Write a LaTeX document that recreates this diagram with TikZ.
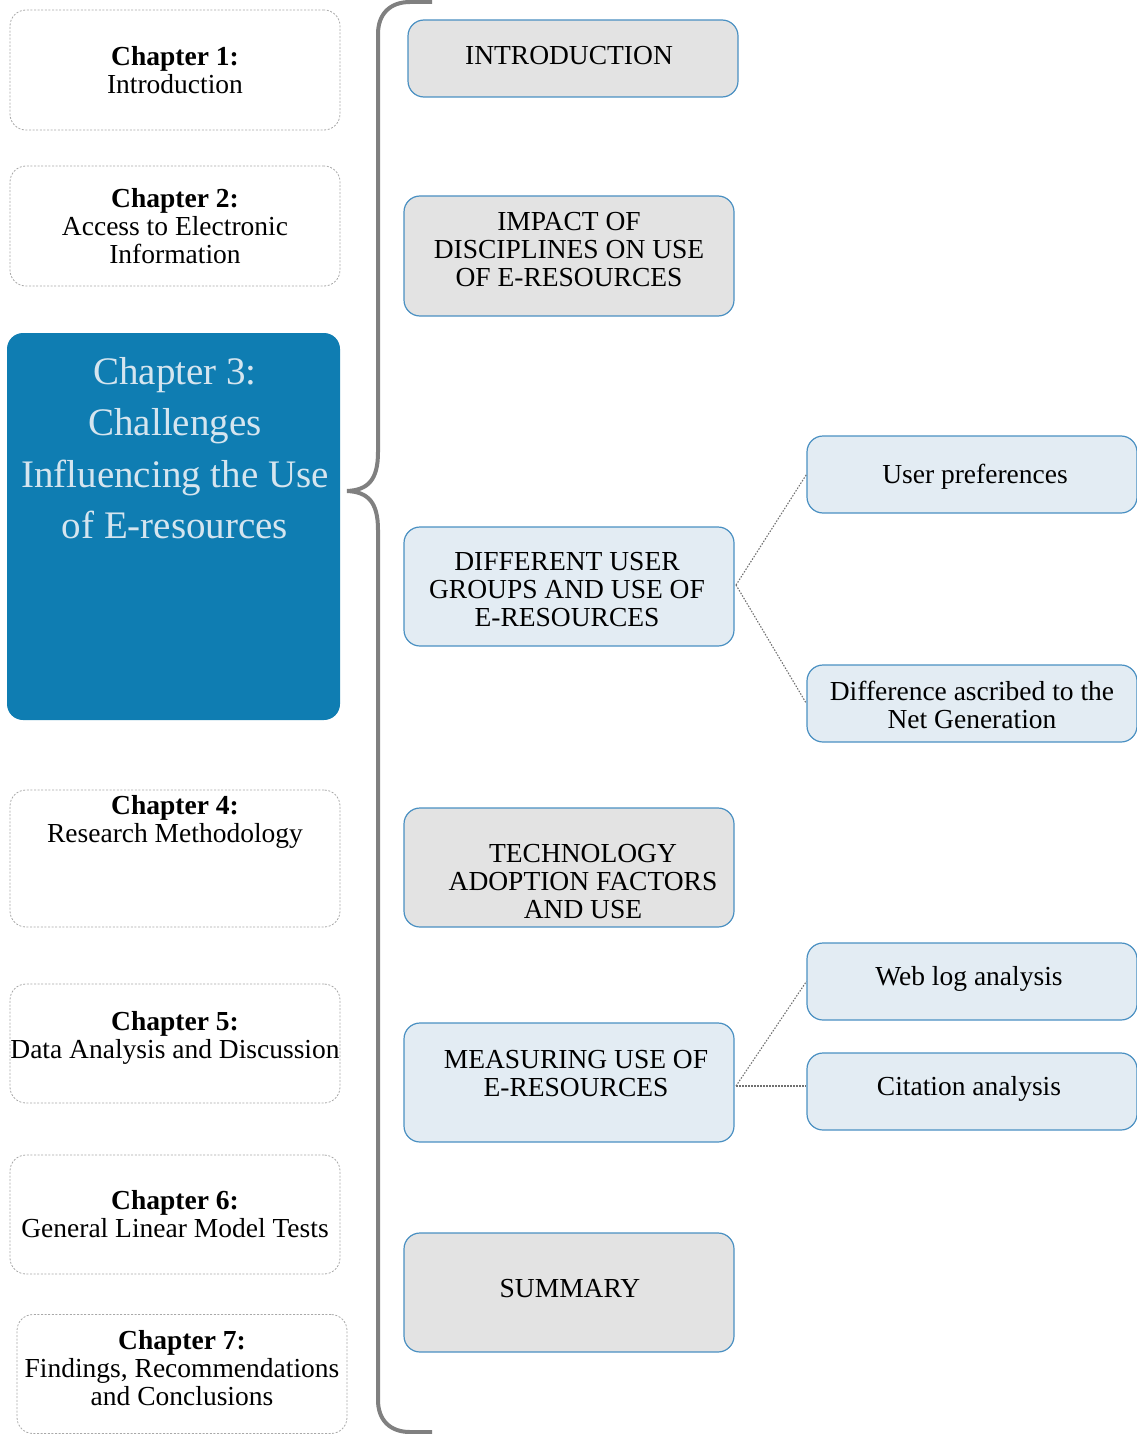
\documentclass[tikz,border=0pt]{standalone}
\usepackage{fontspec}
\setmainfont{Liberation Serif}
\definecolor{chblue}{HTML}{0F7DB2}
\definecolor{chtext}{HTML}{D5E5EF}
\definecolor{bord}{HTML}{4A90C2}
\definecolor{grayfill}{HTML}{E3E3E3}
\definecolor{bluefill}{HTML}{E3ECF3}
\definecolor{dashgray}{HTML}{A8A8A8}
\definecolor{bracegray}{HTML}{808080}
\definecolor{conngray}{HTML}{707070}
\begin{document}
\begin{tikzpicture}[x=1pt,y=-1pt,
  txt/.style={font=\fontsize{27.5}{28}\selectfont, align=center, inner sep=0pt},
  chap/.style={txt, draw=dashgray, dash pattern=on 2pt off 1.6pt, line width=0.8pt,
    rounded corners=16pt, minimum width=330pt, minimum height=120pt},
  midbox/.style={txt, draw=bord, line width=1.2pt, rounded corners=16pt,
    minimum width=330pt, minimum height=120pt},
  graybox/.style={midbox, fill=grayfill},
  bluebox/.style={midbox, fill=bluefill},
  sidebox/.style={bluebox, minimum height=77pt},
  conn/.style={draw=conngray, dash pattern=on 1.5pt off 1.5pt, line width=1.1pt},
  bracepath/.style={draw=bracegray, line width=4pt}
]
\useasboundingbox (0,0) rectangle (1137,1434);

% left column
\node[chap] (c1) at (175,70) {\textbf{Chapter 1:}\\Introduction};
\node[chap] (c2) at (175,226) {\textbf{Chapter 2:}\\Access to Electronic\\Information};
\node[fill=chblue, rounded corners=16pt, minimum width=333pt, minimum height=387pt, inner sep=0pt] (c3) at (173.5,526.5) {};
\node[txt, text=chtext, font=\fontsize{39}{51.5}\selectfont] (c3t) at (175,448) {Chapter 3:\\Challenges\\Influencing the Use\\of E-resources};
\node[chap, minimum height=137pt] (c4) at (175,858.5) {};
\node[txt] (c4t) at (175,822) {\textbf{Chapter 4:}\\Research Methodology};
\node[chap, minimum height=119pt] (c5) at (175,1043.5) {};
\node[txt] (c5t) at (175,1038) {\textbf{Chapter 5:}\\Data Analysis and Discussion};
\node[chap, minimum height=119pt] (c6) at (175,1214.5) {\textbf{Chapter 6:}\\General Linear Model Tests};
\node[chap, minimum height=119pt] (c7) at (182,1374) {};
\node[txt] (c7t) at (182,1368) {\textbf{Chapter 7:}\\Findings, Recommendations\\and Conclusions};

% brace
\draw[bracepath] (432,2) -- (410,2) .. controls (390,2) and (378,14) .. (378,34)
  -- (378,452) .. controls (378,480) and (368,490) .. (347,491)
  .. controls (368,492) and (378,502) .. (378,530)
  -- (378,1400) .. controls (378,1420) and (390,1432) .. (410,1432) -- (432,1432);

% middle column
\node[graybox, minimum height=77pt] (intro) at (573,58.5) {};
\node[txt] (introt) at (569,56) {INTRODUCTION};
\node[graybox] (impact) at (569,256) {};
\node[txt] (impactt) at (569,250) {IMPACT OF\\DISCIPLINES ON USE\\OF E-RESOURCES};
\node[bluebox, minimum height=119pt] (groups) at (569,586.5) {};
\node[txt] (groupst) at (567,590) {DIFFERENT USER\\GROUPS AND USE OF\\E-RESOURCES};
\node[graybox, minimum height=119pt] (tech) at (569,867.5) {};
\node[txt] (techt) at (583,882) {TECHNOLOGY\\ADOPTION FACTORS\\AND USE};
\node[bluebox, minimum height=119pt] (meas) at (569,1082.5) {};
\node[txt] (meast) at (576,1074) {MEASURING USE OF\\E-RESOURCES};
\node[graybox, minimum height=119pt] (summ) at (569,1292.5) {};
\node[txt] (summt) at (570,1289) {SUMMARY};

% right column
\node[sidebox] (pref) at (972,474.5) {};
\node[txt] (preft) at (975,477) {User preferences};
\node[sidebox] (netgen) at (972,703.5) {};
\node[txt] (netgent) at (972,705) {Difference ascribed to the\\Net Generation};
\node[sidebox] (web) at (972,981.5) {};
\node[txt] (webt) at (969,979) {Web log analysis};
\node[sidebox] (cit) at (972,1091.5) {};
\node[txt] (citt) at (969,1089) {Citation analysis};

% connectors
\coordinate (go) at (736,585);
\draw[conn] (go) -- (pref.west);
\draw[conn] (go) -- (netgen.west);
\coordinate (mo) at (736,1086);
\draw[conn] (mo) -- (web.west);
\draw[conn] (mo) -- (cit.west |- mo);
\end{tikzpicture}
\end{document}
